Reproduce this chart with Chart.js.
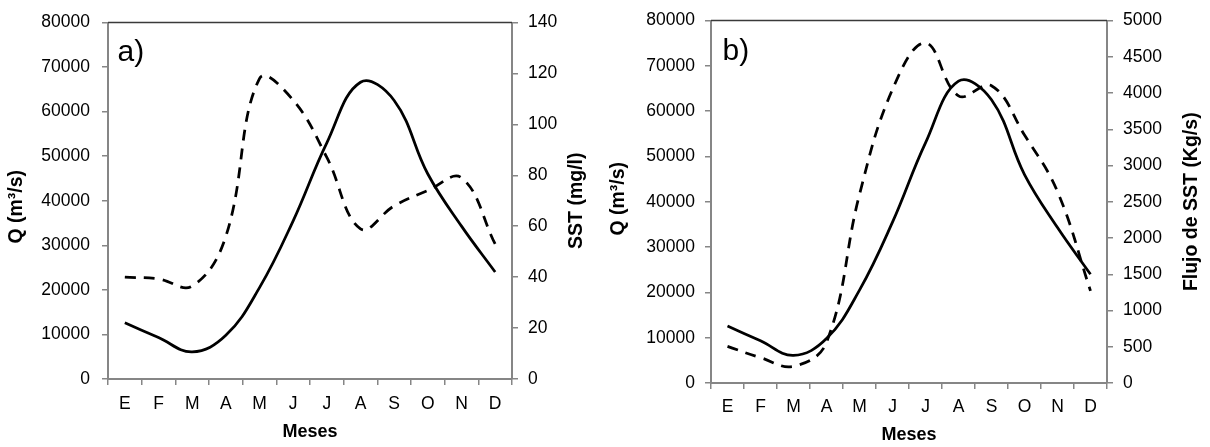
<!DOCTYPE html>
<html>
<head>
<meta charset="utf-8">
<script src="https://cdn.jsdelivr.net/npm/chart.js@4"></script>
<style>
html,body{margin:0;padding:0;background:#fff;}
#wrap{position:relative;width:1210px;height:447px;}
.box{position:absolute;top:0;width:605px;height:447px;}
</style>
</head>
<body>
<div id="wrap">
  <div class="box" style="left:0"><canvas id="chartA" width="605" height="447"></canvas></div>
  <div class="box" style="left:605px"><canvas id="chartB" width="605" height="447"></canvas></div>
</div>
<script>
// datos
const meses  = ['E','F','M','A','M','J','J','A','S','O','N','D'];
const caudal = [12600, 9300, 6100, 9800, 20500, 35500, 53000, 66600, 62500, 46000, 34300, 24000]; // m3/s
const sst    = [40, 39.3, 36.5, 56, 118, 109.5, 87, 59, 68, 74, 79, 53];                       // mg/l
const flujo  = [505, 350, 230, 560, 2600, 4050, 4690, 3960, 4100, 3420, 2640, 1270];            // Kg/s

const qTicks     = {min: 0, max: 80000, step: 10000};
const sstTicks   = {min: 0, max: 140, step: 20};
const flujoTicks = {min: 0, max: 5000, step: 500};

const FONT = "'Liberation Sans', Arial, Helvetica, sans-serif";
const AXIS = '#868686';

function vText(ctx, text, x, y, rot){
    ctx.save();
    ctx.translate(x, y);
    ctx.rotate(rot);
    ctx.textAlign = 'center';
    ctx.textBaseline = 'middle';
    ctx.fillText(text, 0, 0);
    ctx.restore();
}

function panelPlugin(letter, rightTitle, o){
    return {
        id: 'panel',
        afterDraw(chart){
            const ctx = chart.ctx, a = chart.chartArea;
            const y = chart.scales.y, y1 = chart.scales.y1;
            const mid = (a.top + a.bottom) / 2;
            ctx.save();
            ctx.strokeStyle = '#3a3a3a';
            ctx.lineWidth = 1.5;
            ctx.beginPath();
            ctx.moveTo(a.left, a.top);
            ctx.lineTo(a.right, a.top);
            ctx.stroke();

            ctx.fillStyle = '#000';
            ctx.font = '30px ' + FONT;
            ctx.textBaseline = 'alphabetic';
            ctx.fillText(letter, a.left + o.letterDx, a.top + o.letterDy);

            // titulos de los ejes verticales, de abajo hacia arriba
            ctx.font = 'bold 19.5px ' + FONT;
            vText(ctx, 'Q (m³/s)', y.left + o.qTitleDx, mid + o.qTitleDy, -Math.PI / 2);
            vText(ctx, rightTitle, y1.left + o.titleDx, mid, -Math.PI / 2);
            ctx.restore();
        }
    };
}

function makeChart(id, rightData, rightTicks, letter, rightTitle, o){
    const ctx = document.getElementById(id).getContext('2d');
    const tickFont = {family: FONT, size: 17.5};
    const titleFont = {family: FONT, size: 18, weight: 'bold'};
    return new Chart(ctx, {
        type: 'line',
        data: {
            labels: meses,
            datasets: [{
                data: caudal,
                yAxisID: 'y',
                borderColor: '#000',
                borderWidth: 2.75,
                pointRadius: 0,
                tension: 0.4,
                fill: false
            }, {
                data: rightData,
                yAxisID: 'y1',
                borderColor: '#000',
                borderWidth: 2.75,
                borderDash: [11, 8],
                pointRadius: 0,
                tension: 0.4,
                fill: false
            }]
        },
        options: {
            responsive: false,
            animation: false,
            layout: {padding: {top: o.top, left: 0, right: 0, bottom: 0}},
            plugins: {legend: {display: false}, tooltip: {enabled: false}},
            scales: {
                x: {
                    offset: true,
                    grid: {offset: true, drawOnChartArea: false, drawTicks: true, tickLength: 6, color: AXIS, lineWidth: 1.5},
                    border: {color: AXIS, width: 2},
                    ticks: {font: tickFont, color: '#000', padding: o.xPad, maxRotation: 0, autoSkip: false},
                    title: {display: true, text: 'Meses', font: titleFont, color: '#000', padding: {top: 0, bottom: o.xTitlePad}},
                    afterFit: s => { s.height = o.xH; }
                },
                y: {
                    position: 'left',
                    min: qTicks.min, max: qTicks.max,
                    grid: {drawOnChartArea: false, drawTicks: true, tickLength: 6, color: AXIS, lineWidth: 1.5},
                    border: {color: AXIS, width: 2},
                    ticks: {stepSize: qTicks.step, font: tickFont, color: '#000', padding: o.yPad, callback: v => String(v)},
                    title: {display: false},
                    afterFit: s => { s.width = o.yW; }
                },
                y1: {
                    position: 'right',
                    min: rightTicks.min, max: rightTicks.max,
                    grid: {drawOnChartArea: false, drawTicks: true, tickLength: 6, color: AXIS, lineWidth: 1.5},
                    border: {color: AXIS, width: 2},
                    ticks: {stepSize: rightTicks.step, font: tickFont, color: '#000', padding: 10, callback: v => String(v)},
                    title: {display: false},
                    afterFit: s => { s.width = o.y1W; }
                }
            }
        },
        plugins: [panelPlugin(letter, rightTitle, o)]
    });
}

makeChart('chartA', sst, sstTicks, 'a)', 'SST (mg/l)',
    {top: 17, xH: 68, xPad: 9, xTitlePad: 4, yW: 108, yPad: 12, qTitleDx: 17, qTitleDy: 6, y1W: 93, titleDx: 64.7, letterDx: 9.5, letterDy: 38});
makeChart('chartB', flujo, flujoTicks, 'b)', 'Flujo de SST (Kg/s)',
    {top: 19, xH: 64, xPad: 7.5, xTitlePad: 1, yW: 106, yPad: 10, qTitleDx: 14, qTitleDy: -3, y1W: 103, titleDx: 85, letterDx: 11.5, letterDy: 39});
</script>
</body>
</html>
